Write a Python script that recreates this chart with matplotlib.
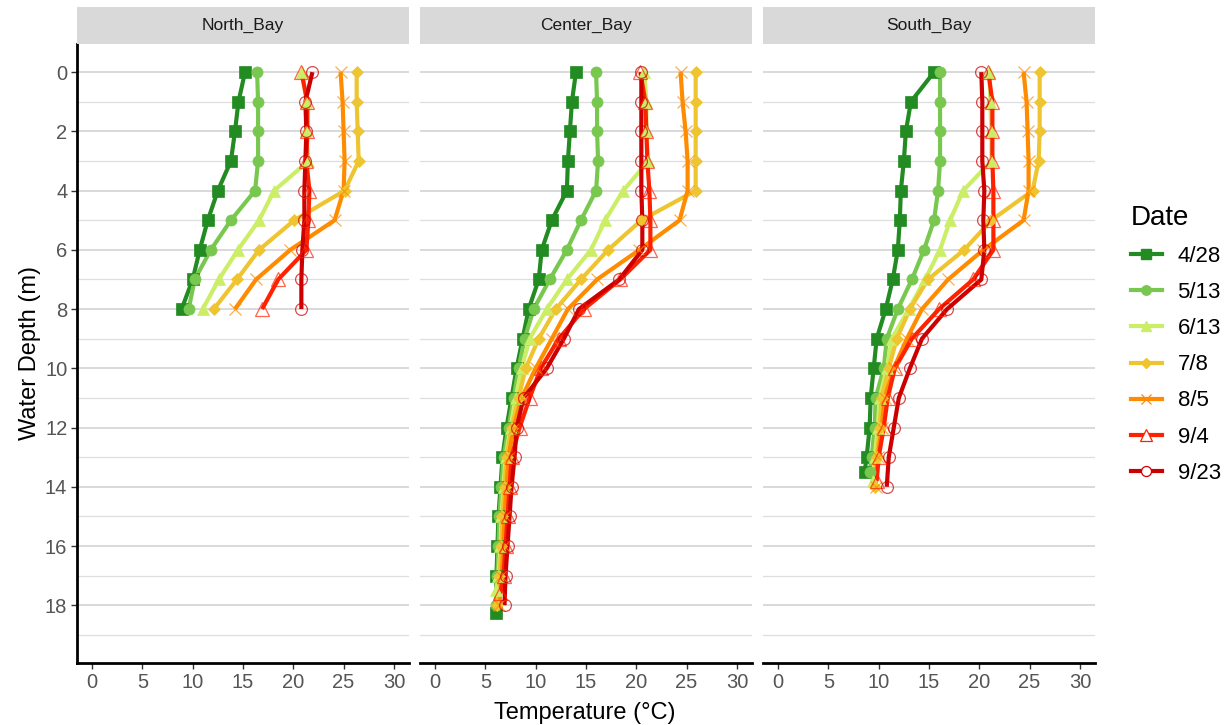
import matplotlib
matplotlib.use("Agg")
import matplotlib.pyplot as plt
from matplotlib.lines import Line2D
from matplotlib.patches import Rectangle

plt.rcParams['font.family'] = ['Liberation Sans', 'DejaVu Sans']

# ---------------- data ----------------
panels = ["North_Bay", "Center_Bay", "South_Bay"]
dates = ["4/28", "5/13", "6/13", "7/8", "8/5", "9/4", "9/23"]

x_ticks = [0, 5, 10, 15, 20, 25, 30]
y_ticks = [0, 2, 4, 6, 8, 10, 12, 14, 16, 18]

# North_Bay (depth 0..8 m for every date)
north_depth = {d: [0, 1, 2, 3, 4, 5, 6, 7, 8] for d in dates}
north_temp = {
    "4/28": [15.2, 14.55, 14.2, 13.8, 12.5, 11.5, 10.7, 10.0, 8.9],
    "5/13": [16.4, 16.5, 16.5, 16.5, 16.2, 13.8, 11.8, 10.2, 9.6],
    "6/13": [20.9, 21.3, 21.3, 21.5, 18.1, 16.6, 14.5, 12.6, 11.0],
    "7/8":  [26.3, 26.3, 26.4, 26.5, 25.1, 20.1, 16.6, 14.4, 12.1],
    "8/5":  [24.7, 24.9, 25.0, 25.1, 25.0, 24.1, 19.7, 16.3, 14.2],
    "9/4":  [20.8, 21.4, 21.4, 21.3, 21.6, 21.5, 21.3, 18.5, 16.9],
    "9/23": [21.9, 21.2, 21.3, 21.2, 21.1, 21.1, 20.9, 20.8, 20.8],
}

# Center_Bay
center_depth = {
    "4/28": list(range(18)) + [18.25],
    "5/13": list(range(19)),
    "6/13": list(range(18)) + [17.5],
    "7/8":  list(range(19)),
    "8/5":  list(range(19)),
    "9/4":  list(range(18)) + [17.6],
    "9/23": list(range(19)),
}
center_temp = {
    "4/28": [14.0, 13.6, 13.4, 13.2, 13.1, 11.6, 10.6, 10.3, 9.3, 8.7, 8.1, 7.6, 7.1, 6.7, 6.5, 6.3, 6.2, 6.1, 6.1],
    "5/13": [16.0, 16.1, 16.1, 16.2, 16.0, 14.5, 13.1, 11.4, 9.8, 8.9, 8.3, 7.8, 7.3, 6.8, 6.6, 6.4, 6.3, 6.2, 6.1],
    "6/13": [20.8, 21.0, 21.0, 21.2, 18.7, 16.9, 15.5, 13.1, 11.1, 9.4, 8.6, 8.0, 7.5, 7.0, 6.8, 6.6, 6.5, 6.3, 6.1],
    "7/8":  [25.9, 25.9, 25.9, 25.9, 25.9, 20.5, 17.2, 14.5, 12.0, 10.3, 9.0, 8.3, 7.6, 7.1, 6.9, 6.7, 6.6, 6.4, 6.2],
    "8/5":  [24.4, 24.6, 24.9, 25.1, 25.1, 24.3, 20.3, 16.1, 13.2, 11.6, 10.0, 8.6, 7.8, 7.3, 7.1, 6.9, 6.8, 6.6, 6.4],
    "9/4":  [20.4, 20.9, 21.0, 21.1, 21.3, 21.4, 21.4, 18.4, 14.8, 12.3, 10.5, 9.4, 8.4, 7.6, 7.4, 7.2, 7.0, 6.8, 6.5],
    "9/23": [20.5, 20.5, 20.5, 20.5, 20.5, 20.6, 20.6, 18.3, 14.3, 12.8, 11.1, 8.8, 8.1, 7.9, 7.6, 7.4, 7.2, 7.0, 6.9],
}

# South_Bay
south_depth = {
    "4/28": list(range(14)) + [13.5],
    "5/13": list(range(14)) + [13.5],
    "6/13": list(range(14)) + [13.8],
    "7/8":  list(range(15)),
    "8/5":  list(range(15)),
    "9/4":  list(range(14)) + [13.8],
    "9/23": list(range(15)),
}
south_temp = {
    "4/28": [15.5, 13.2, 12.7, 12.5, 12.2, 12.1, 11.9, 11.4, 10.7, 9.8, 9.5, 9.2, 9.1, 8.8, 8.6],
    "5/13": [16.1, 16.1, 16.1, 16.1, 15.9, 15.5, 14.5, 13.3, 11.9, 10.8, 10.5, 9.7, 9.6, 9.3, 9.1],
    "6/13": [21.0, 21.1, 21.2, 21.2, 18.4, 17.1, 16.1, 14.6, 13.0, 11.3, 10.8, 10.1, 9.9, 9.6, 9.4],
    "7/8":  [26.0, 26.0, 26.0, 25.9, 25.3, 21.2, 18.5, 14.9, 13.1, 11.8, 11.0, 10.3, 10.1, 9.8, 9.6],
    "8/5":  [24.4, 24.7, 24.8, 24.9, 24.9, 24.4, 20.4, 16.9, 14.3, 12.8, 11.5, 10.6, 10.3, 9.9, 9.7],
    "9/4":  [20.9, 21.3, 21.3, 21.3, 21.4, 21.4, 21.4, 19.4, 16.0, 13.3, 11.6, 10.9, 10.5, 10.0, 9.8],
    "9/23": [20.2, 20.3, 20.3, 20.3, 20.5, 20.4, 20.5, 20.2, 16.8, 14.3, 13.1, 12.0, 11.5, 11.0, 10.8],
}

panel_depths = [north_depth, center_depth, south_depth]
panel_temps = [north_temp, center_temp, south_temp]

# ---------------- styles ----------------
colors = {"4/28": "#228B22", "5/13": "#78C850", "6/13": "#CCEE66", "7/8": "#EEC430",
          "8/5": "#FF8C00", "9/4": "#FF2200", "9/23": "#CC0000"}
mstyle = {
    "4/28": dict(marker="s", ms=8.0, filled=True),
    "5/13": dict(marker="o", ms=8.0, filled=True),
    "6/13": dict(marker="^", ms=9.0, filled=True),
    "7/8":  dict(marker="D", ms=6.0, filled=True),
    "8/5":  dict(marker="x", ms=8.0, filled=False),
    "9/4":  dict(marker="^", ms=9.5, filled=False),
    "9/23": dict(marker="o", ms=8.5, filled=False),
}
LW = 3.0

W, H = 1230, 725
fig = plt.figure(figsize=(W / 100, H / 100), dpi=100)

lefts = [77, 420, 763]
pw = 332
top_px, bot_px = 44, 663
strip_top = 7

for i, name in enumerate(panels):
    ax = fig.add_axes([lefts[i] / W, 1 - bot_px / H, pw / W, (bot_px - top_px) / H])
    ax.set_xlim(-1.5, 31.5)
    ax.set_ylim(19.95, -0.95)
    ax.set_facecolor("white")

    # grid lines (horizontal only)
    for yv in range(0, 20):
        if yv % 2 == 0:
            ax.axhline(yv, color="#CFCFCF", lw=1.1, zorder=0)
        else:
            ax.axhline(yv, color="#DEDEDE", lw=0.9, zorder=0)

    dep = panel_depths[i]
    tmp = panel_temps[i]
    for d in dates:
        ax.plot(tmp[d], dep[d], color=colors[d], lw=LW, zorder=2,
                solid_capstyle="butt", solid_joinstyle="round")
    for d in dates:
        st = mstyle[d]
        if st["filled"]:
            ax.plot(tmp[d], dep[d], ls="none", marker=st["marker"], ms=st["ms"],
                    mfc=colors[d], mec=colors[d], mew=0.5, zorder=3)
        elif st["marker"] == "x":
            ax.plot(tmp[d], dep[d], ls="none", marker="x", ms=st["ms"],
                    mec=colors[d], mew=0.9, alpha=0.7, zorder=3)
        else:
            ax.plot(tmp[d], dep[d], ls="none", marker=st["marker"], ms=st["ms"],
                    mfc="none", mec=colors[d], mew=0.9, alpha=0.7, zorder=3)

    ax.set_xticks(x_ticks)
    ax.set_xticklabels([str(v) for v in x_ticks])
    ax.set_yticks(y_ticks)
    for s in ["top", "right"]:
        ax.spines[s].set_visible(False)
    ax.spines["bottom"].set_linewidth(2.0)
    ax.spines["bottom"].set_color("black")
    ax.tick_params(axis="x", length=4, width=1.0, color="#333333",
                   labelsize=14.5, labelcolor="#555555", pad=3)
    if i == 0:
        ax.spines["left"].set_linewidth(2.0)
        ax.spines["left"].set_color("black")
        ax.tick_params(axis="y", length=4, width=1.0, color="#333333",
                       labelsize=14.5, labelcolor="#555555", pad=3)
        ax.set_yticklabels([str(v) for v in y_ticks])
    else:
        ax.spines["left"].set_visible(False)
        ax.tick_params(axis="y", length=0, labelleft=False)

    # strip
    sh = (top_px - strip_top) / (bot_px - top_px)
    ax.add_patch(Rectangle((0, 1), 1, sh, transform=ax.transAxes, facecolor="#D9D9D9",
                           edgecolor="none", clip_on=False, zorder=5))
    ax.text(0.5, 1 + sh / 2, name, transform=ax.transAxes, ha="center", va="center",
            fontsize=12.5, color="#1A1A1A", zorder=6)

fig.text(585 / W, 1 - 713 / H, "Temperature (°C)", ha="center", va="center",
         fontsize=17, color="black")
fig.text(30 / W, 1 - 353 / H, "Water Depth (m)", ha="center", va="center",
         rotation=90, fontsize=17, color="black")

handles = []
for d in dates:
    st = mstyle[d]
    if st["filled"]:
        h = Line2D([], [], color=colors[d], lw=LW, marker=st["marker"], ms=st["ms"] * 0.85,
                   mfc=colors[d], mec=colors[d])
    else:
        h = Line2D([], [], color=colors[d], lw=LW, marker=st["marker"], ms=st["ms"] * 0.85,
                   mfc="white" if st["marker"] != "x" else colors[d], mec=colors[d], mew=0.9)
    handles.append(h)

leg = fig.legend(handles, dates, title="Date", loc="upper left",
                 bbox_to_anchor=(1122 / W, 1 - 196 / H), frameon=False,
                 fontsize=16, title_fontsize=20, handlelength=1.4,
                 handletextpad=0.7, labelspacing=0.68, alignment="left",
                 borderaxespad=0)

fig.savefig("out.png", dpi=100, facecolor="white")
